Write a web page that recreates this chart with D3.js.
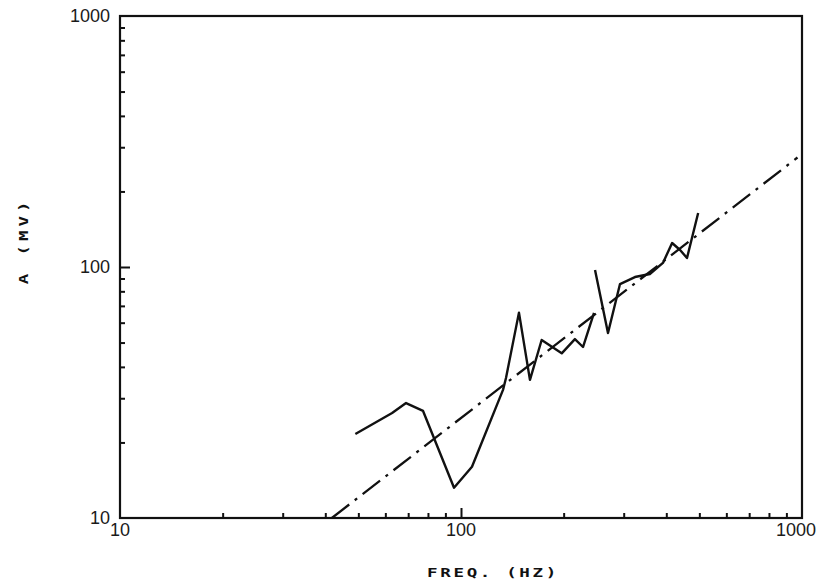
<!DOCTYPE html>
<html>
<head>
<meta charset="utf-8">
<script src="https://cdn.jsdelivr.net/npm/d3@7/dist/d3.min.js"></script>
<style>
  html, body { margin: 0; padding: 0; background: #fff; }
  svg { display: block; }
  .tick-label { font-family: "Liberation Sans", Arial, sans-serif; font-size: 18px; fill: #1a1a1a; }
  .title { font-family: "DejaVu Sans Mono", monospace; font-size: 12.5px; font-weight: bold; fill: #111; }
</style>
</head>
<body>
<svg id="chart" width="817" height="588"></svg>
<script>
// Measured sweep, low band (Hz, mV)
const freqLow = [49, 62.8, 69, 77.4, 95.4, 107.7, 132.8, 135.5, 147.9, 159.3, 172.4, 197.4, 215.8, 227.9, 245.5];
const ampLow  = [21.6, 26.2, 28.7, 26.7, 13.2, 16.0, 32.4, 36.1, 65.8, 35.5, 51.2, 45.3, 51.6, 48.0, 65.6];
// Measured sweep, high band (Hz, mV)
const freqHigh = [247.2, 269.8, 292.6, 323.6, 358, 391, 416, 439, 460, 496];
const ampHigh  = [97.3, 54.6, 85.5, 91.2, 93.8, 103.8, 124.6, 116.9, 108.6, 164.1];
// Straight-line fit (log-log), end points
const fitFreq = [41.8, 970];
const fitAmp  = [10, 273];
// Axes
const majorTicks = [10, 100, 1000];
const minorTicks = [20, 30, 40, 50, 60, 70, 80, 90, 200, 300, 400, 500, 600, 700, 800, 900];
const xTitle = "FREQ. (HZ)";
const yTitle = "A (MV)";

const svg = d3.select("#chart");
const plotLeft = 120, plotRight = 802, plotTop = 16, plotBottom = 518;

const x = d3.scaleLog().domain([10, 1000]).range([plotLeft, plotRight]);
const y = d3.scaleLog().domain([10, 1000]).range([plotBottom, plotTop]);

// Frame
svg.append("rect")
  .attr("x", plotLeft).attr("y", plotTop)
  .attr("width", plotRight - plotLeft).attr("height", plotBottom - plotTop)
  .attr("fill", "none").attr("stroke", "#111").attr("stroke-width", 2.2);

// Inward ticks
function styleAxis(g) {
  g.select(".domain").remove();
  g.selectAll(".tick line").attr("stroke", "#111").attr("stroke-width", 2);
  g.selectAll(".tick text").remove();
}
svg.append("g").attr("transform", `translate(${plotLeft},0)`)
  .call(d3.axisLeft(y).tickValues(minorTicks).tickSize(-5)).call(styleAxis);
svg.append("g").attr("transform", `translate(${plotLeft},0)`)
  .call(d3.axisLeft(y).tickValues([100]).tickSize(-10)).call(styleAxis);
svg.append("g").attr("transform", `translate(0,${plotBottom})`)
  .call(d3.axisBottom(x).tickValues(minorTicks).tickSize(-5)).call(styleAxis);
svg.append("g").attr("transform", `translate(0,${plotBottom})`)
  .call(d3.axisBottom(x).tickValues([100]).tickSize(-10)).call(styleAxis);

// Tick labels
svg.selectAll(".ylab").data(majorTicks).enter().append("text")
  .attr("class", "tick-label")
  .attr("x", plotLeft - 10).attr("y", d => y(d) + 6)
  .attr("text-anchor", "end")
  .text(d => d);
svg.selectAll(".xlab").data(majorTicks).enter().append("text")
  .attr("class", "tick-label")
  .attr("x", d => d === 1000 ? 816 : x(d)).attr("y", plotBottom + 18)
  .attr("text-anchor", d => d === 1000 ? "end" : "middle")
  .text(d => d);

// Axis titles: wide plotter-style lettering
svg.append("text").attr("class", "title")
  .attr("transform", "translate(493,577) scale(1.4,1)")
  .attr("text-anchor", "middle")
  .attr("letter-spacing", "1.9px")
  .text(xTitle);
svg.append("text").attr("class", "title")
  .attr("transform", "translate(28,241) rotate(-90) scale(1.4,1)")
  .attr("text-anchor", "middle")
  .attr("letter-spacing", "2.8px")
  .text(yTitle);

const line = d3.line().x(d => x(d[0])).y(d => y(d[1]));

// Fit line
svg.append("path")
  .datum(d3.zip(fitFreq, fitAmp))
  .attr("d", line)
  .attr("fill", "none").attr("stroke", "#111").attr("stroke-width", 2.3)
  .attr("stroke-dasharray", "22,7,3,7");

// Measured curves
[[freqLow, ampLow], [freqHigh, ampHigh]].forEach(([f, a]) => {
  svg.append("path")
    .datum(d3.zip(f, a))
    .attr("d", line)
    .attr("fill", "none").attr("stroke", "#111").attr("stroke-width", 2.4)
    .attr("stroke-linejoin", "round");
});
</script>
</body>
</html>
